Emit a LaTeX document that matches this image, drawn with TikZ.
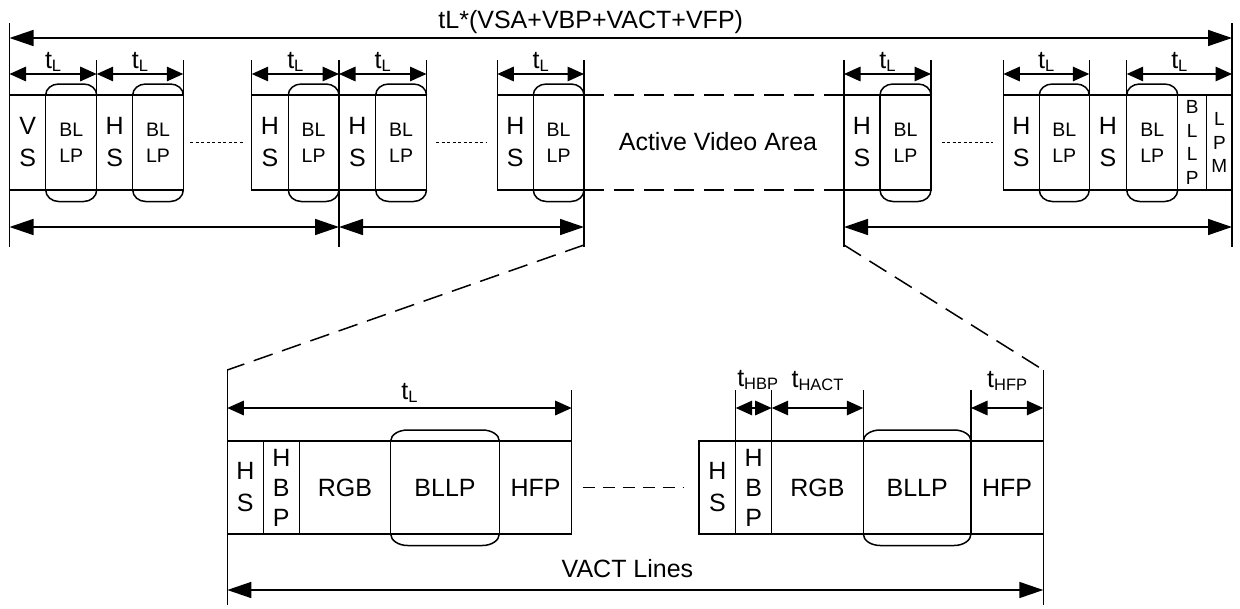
\documentclass[tikz,border=0pt]{standalone}
\usepackage{fontspec}
\setmainfont{Liberation Sans}
\usetikzlibrary{arrows.meta}
\newcommand\mysub[1]{\raisebox{-3pt}{\fontsize{16.5}{16.5}\selectfont #1}}
% #1 node name, #2 horizontal radius of the rounded ends
\newcommand\capbulge[2]{%
  \draw (#1.north west) arc[start angle=180,end angle=270,x radius=#2,y radius=11]
        -- ([xshift=-#2pt,yshift=11pt]#1.north east)
        arc[start angle=270,end angle=360,x radius=#2,y radius=11];
  \draw (#1.south west) arc[start angle=180,end angle=90,x radius=#2,y radius=11.5]
        -- ([xshift=-#2pt,yshift=-11.5pt]#1.south east)
        arc[start angle=90,end angle=0,x radius=#2,y radius=11.5];}
\begin{document}
\begin{tikzpicture}[x=1pt,y=-1pt,line width=1.5pt,
  cell/.style={draw,rectangle,inner sep=0pt,outer sep=0pt,anchor=west,align=center,minimum height=95pt},
  cellb/.style={cell,minimum height=93pt},
  bigf/.style={font=\fontsize{25}{32}\selectfont},
  bigbf/.style={font=\fontsize{25}{30}\selectfont},
  smallf/.style={font=\fontsize{19.5}{26}\selectfont},
  narrowf/.style={font=\fontsize{19}{23.5}\selectfont},
  bigarr/.style={arrows={Triangle[length=24pt,width=16pt]-Triangle[length=24pt,width=16pt]}},
  smarr/.style={arrows={Triangle[length=16.5pt,width=14.5pt]-Triangle[length=16.5pt,width=14.5pt]}},
  lbl/.style={font=\fontsize{25}{30}\selectfont,inner sep=0pt,anchor=base},
  dashA/.style={dash pattern=on 20pt off 10pt},
  dashB/.style={dash pattern=on 12pt off 8pt},
  dotline/.style={line width=1pt,dash pattern=on 3pt off 2.5pt}]
\useasboundingbox (0,0) rectangle (1240,608);

% ---------- level coordinates ----------
\coordinate (yTop) at (0,23);
\coordinate (yT) at (0,38);
\coordinate (yTick) at (0,60);
\coordinate (yL) at (0,74);
\coordinate (yB) at (0,227);
\coordinate (yLow) at (0,247);
\coordinate (yD1) at (0,245);
\coordinate (yD2) at (0,370);
\coordinate (yBT) at (0,390);
\coordinate (yBA) at (0,408);
\coordinate (yV) at (0,590);
\coordinate (yEnd) at (0,605);

% ---------- top row cells ----------
\node[cell,bigf,minimum width=36.2pt] (vs1) at (9.5,142.5) {V\\S};
\node[cell,smallf,minimum width=51pt] (c1) at (45.7,142.5) {BL\\LP};
\node[cell,bigf,minimum width=36pt] (hs1) at (96.7,142.5) {H\\S};
\node[cell,smallf,minimum width=50.6pt] (c2) at (132.7,142.5) {BL\\LP};

\node[cell,bigf,minimum width=36.6pt] (hs2) at (251.7,142.5) {H\\S};
\node[cell,smallf,minimum width=50.7pt] (c3) at (288.3,142.5) {BL\\LP};
\node[cell,bigf,minimum width=36.7pt] (hs3) at (339,142.5) {H\\S};
\node[cell,smallf,minimum width=50.8pt] (c4) at (375.7,142.5) {BL\\LP};

\node[cell,bigf,minimum width=36pt] (hs4) at (497.3,142.5) {H\\S};
\node[cell,smallf,minimum width=50.7pt] (c5) at (533.3,142.5) {BL\\LP};

\node[cell,bigf,minimum width=36pt] (hs5) at (844,142.5) {H\\S};
\node[cell,smallf,minimum width=51pt] (c6) at (880,142.5) {BL\\LP};

\node[cell,bigf,minimum width=36pt] (hs6) at (1003.3,142.5) {H\\S};
\node[cell,smallf,minimum width=50pt] (c7) at (1039.3,142.5) {BL\\LP};
\node[cell,bigf,minimum width=37.4pt] (hs7) at (1089.3,142.5) {H\\S};
\node[cell,smallf,minimum width=51pt] (c8) at (1126.7,142.5) {BL\\LP};
\node[cell,narrowf,minimum width=29pt] (bllp) at (1177.7,142.5) {B\\L\\L\\P};
\node[cell,narrowf,minimum width=25.3pt] (lpm) at (1206.7,142.5) {L\\P\\M};

\foreach \c in {c1,c2,c3,c4,c5,c6,c7,c8} {\capbulge{\c}{13}}

% ---------- top frame ----------
\draw (vs1.west |- yTop) -- (vs1.west |- yLow);
\draw (lpm.east |- yTop) -- (lpm.east |- yLow);
\draw[bigarr] (vs1.west |- yT) -- node[lbl,xshift=-30pt,yshift=10pt] (title) {tL*(VSA+VBP+VACT+VFP)} (lpm.east |- yT);

\foreach \n in {hs3.west,c5.east,hs5.west} {\draw (\n |- yTick) -- (\n |- yLow);}
\foreach \n in {hs1.north west,c2.north east,hs2.north west,c4.north east,hs4.north west,c6.north east,hs6.north west,hs7.north west,c8.north west} {\draw (\n |- yTick) -- (\n);}

\draw[smarr] (vs1.west|-yL) -- node[lbl,yshift=6pt] (l1) {t\mysub{L}} (hs1.west|-yL);
\draw[smarr] (hs1.west|-yL) -- node[lbl,yshift=6pt] (l2) {t\mysub{L}} (c2.east|-yL);
\draw[smarr] (hs2.west|-yL) -- node[lbl,yshift=6pt] (l3) {t\mysub{L}} (hs3.west|-yL);
\draw[smarr] (hs3.west|-yL) -- node[lbl,yshift=6pt] (l4) {t\mysub{L}} (c4.east|-yL);
\draw[smarr] (hs4.west|-yL) -- node[lbl,yshift=6pt] (l5) {t\mysub{L}} (c5.east|-yL);
\draw[smarr] (hs5.west|-yL) -- node[lbl,yshift=6pt] (l6) {t\mysub{L}} (c6.east|-yL);
\draw[smarr] (hs6.west|-yL) -- node[lbl,yshift=6pt] (l7) {t\mysub{L}} (hs7.west|-yL);
\draw[smarr] (c8.west|-yL) -- node[lbl,yshift=6pt] (l8) {t\mysub{L}} (lpm.east|-yL);

\draw[bigarr] (vs1.west|-yB) -- (hs3.west|-yB);
\draw[bigarr] (hs3.west|-yB) -- (c5.east|-yB);
\draw[bigarr] (hs5.west|-yB) -- (lpm.east|-yB);

\draw[dotline] ([xshift=6.7pt]c2.east) -- ([xshift=-8.7pt]hs2.west);
\draw[dotline] ([xshift=9.5pt]c4.east) -- ([xshift=-10.3pt]hs4.west);
\draw[dotline] ([xshift=10.7pt]c6.east) -- ([xshift=-10.3pt]hs6.west);

\draw[dashA] (c5.north east) -- (hs5.north west);
\draw[dashA] (c5.south east) -- (hs5.south west);
\node[lbl] (ava) at (718,150) {Active Video Area};

% ---------- bottom row cells ----------
\node[cellb,bigf,minimum width=36pt] (hsA) at (227.3,487.5) {H\\S};
\node[cellb,bigbf,minimum width=36pt] (hbpA) at (263.3,487.5) {H\\B\\P};
\node[cellb,bigf,minimum width=91.4pt] (rgbA) at (299.3,487.5) {RGB};
\node[cellb,bigf,minimum width=108.6pt] (capA) at (390.7,487.5) {BLLP};
\node[cellb,bigf,minimum width=72.4pt] (hfpA) at (499.3,487.5) {HFP};

\node[cellb,bigf,minimum width=36.7pt] (hsB) at (699,487.5) {H\\S};
\node[cellb,bigbf,minimum width=36pt] (hbpB) at (735.7,487.5) {H\\B\\P};
\node[cellb,bigf,minimum width=91.6pt] (rgbB) at (771.7,487.5) {RGB};
\node[cellb,bigf,minimum width=107.7pt] (capB) at (863.3,487.5) {BLLP};
\node[cellb,bigf,minimum width=72.3pt] (hfpB) at (971,487.5) {HFP};

\capbulge{capA}{17}
\capbulge{capB}{17}

\draw[dashB] ([xshift=11pt]hfpA.east) -- ([xshift=-16pt]hsB.west);

% ---------- zoom lines and bottom frame ----------
\draw[dashA] (c5.east|-yD1) -- (hsA.west|-yD2);
\draw[dashA] (hs5.west|-yD1) -- (hfpB.east|-yD2);
\draw (hsA.west|-yD2) -- (hsA.west|-yEnd);
\draw (hfpB.east|-yD2) -- (hfpB.east|-yEnd);

\foreach \n in {hfpA.north east,hbpB.north west,rgbB.north west,capB.north west,hfpB.north west} {\draw (\n |- yBT) -- (\n);}

\draw[smarr] (hsA.west|-yBA) -- node[lbl,xshift=10pt,yshift=9pt] (lA) {t\mysub{L}} (hfpA.east|-yBA);
\draw[smarr] (hbpB.west|-yBA) -- node[lbl,xshift=4pt,yshift=22pt] (lhbp) {t\mysub{HBP}} (rgbB.west|-yBA);
\draw[smarr] (rgbB.west|-yBA) -- node[lbl,yshift=21pt] (lhact) {t\mysub{HACT}} (capB.west|-yBA);
\draw[smarr] (hfpB.west|-yBA) -- node[lbl,yshift=21pt] (lhfp) {t\mysub{HFP}} (hfpB.east|-yBA);

\draw[bigarr] (hsA.west|-yV) -- node[lbl,xshift=-7.8pt,yshift=13pt] (vact) {VACT Lines} (hfpB.east|-yV);
\end{tikzpicture}
\end{document}
